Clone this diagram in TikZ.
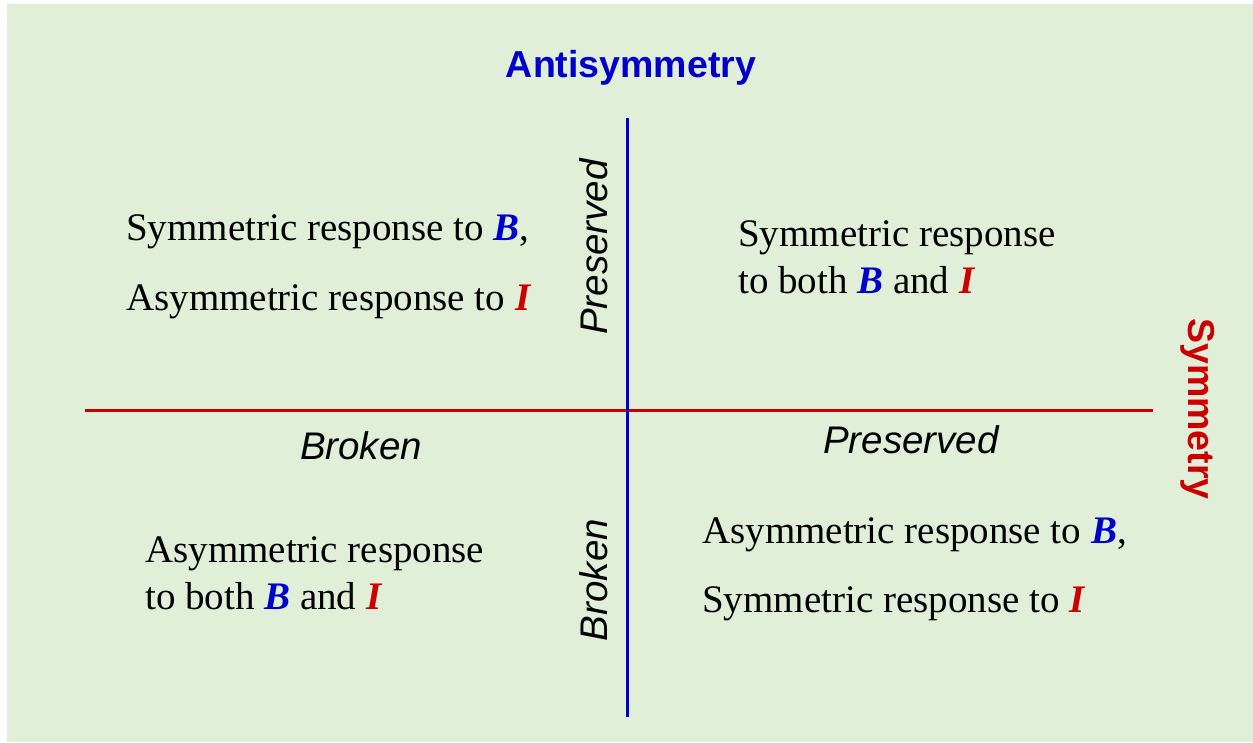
\documentclass[tikz,border=0pt]{standalone}
\usepackage{fontspec}
\setmainfont{Liberation Serif}
\setsansfont{Liberation Sans}
\definecolor{bgc}{HTML}{E1EED8}
\definecolor{myblue}{HTML}{0000CC}
\definecolor{myred}{HTML}{CC0000}
\newcommand{\bB}{\textbf{\textit{\color{myblue}B}}}
\newcommand{\bI}{\textbf{\textit{\color{myred}I}}}
\tikzset{
  resp/.style={inner sep=0pt, anchor=base west, font=\fontsize{39}{47}\selectfont, align=left},
  axlab/.style={inner sep=0pt, anchor=base, font=\sffamily\bfseries\fontsize{37.5}{45}\selectfont},
  statelab/.style={inner sep=0pt, anchor=base, font=\sffamily\itshape\fontsize{38.5}{46}\selectfont},
}
\begin{document}
\begin{tikzpicture}[x=1pt,y=-1pt]
\useasboundingbox (0,0) rectangle (1253,742);
\fill[white] (0,0) rectangle (1253,742);
\fill[bgc] (7,4) rectangle (1253,742);
% axes
\coordinate (vt) at (627,118);
\coordinate (vb) at (627,717);
\coordinate (hl) at (85,410);
\coordinate (hr) at (1153,410);
\draw[myred, line width=3pt] (hl) -- (hr);
\draw[myblue, line width=3pt] (vt) -- (vb);
% axis titles
\node[axlab, text=myblue] (anti) at (631,77) {Antisymmetry};
\node[axlab, text=myred, rotate=-90] (sym) at (1188,409) {Symmetry};
% state labels
\node[statelab, rotate=90] (vpres) at (607,247) {Preserved};
\node[statelab, rotate=90] (vbrok) at (607,580) {Broken};
\node[statelab] (hbrok) at (361,459) {Broken};
\node[statelab] (hpres) at (911,453) {Preserved};
% quadrant texts
\node[resp] (tl1) at (126,240) {Symmetric response to \bB,};
\node[resp] (tl2) at (126,310) {Asymmetric response to \bI};
\node[resp] (tr1) at (738,246) {Symmetric response};
\node[resp] (tr2) at (738,293) {to both \bB{} and \bI};
\node[resp] (bl1) at (145,562) {Asymmetric response};
\node[resp] (bl2) at (145,609) {to both \bB{} and \bI};
\node[resp] (br1) at (702,543) {Asymmetric response to \bB,};
\node[resp] (br2) at (702,612) {Symmetric response to \bI};
\end{tikzpicture}
\end{document}
